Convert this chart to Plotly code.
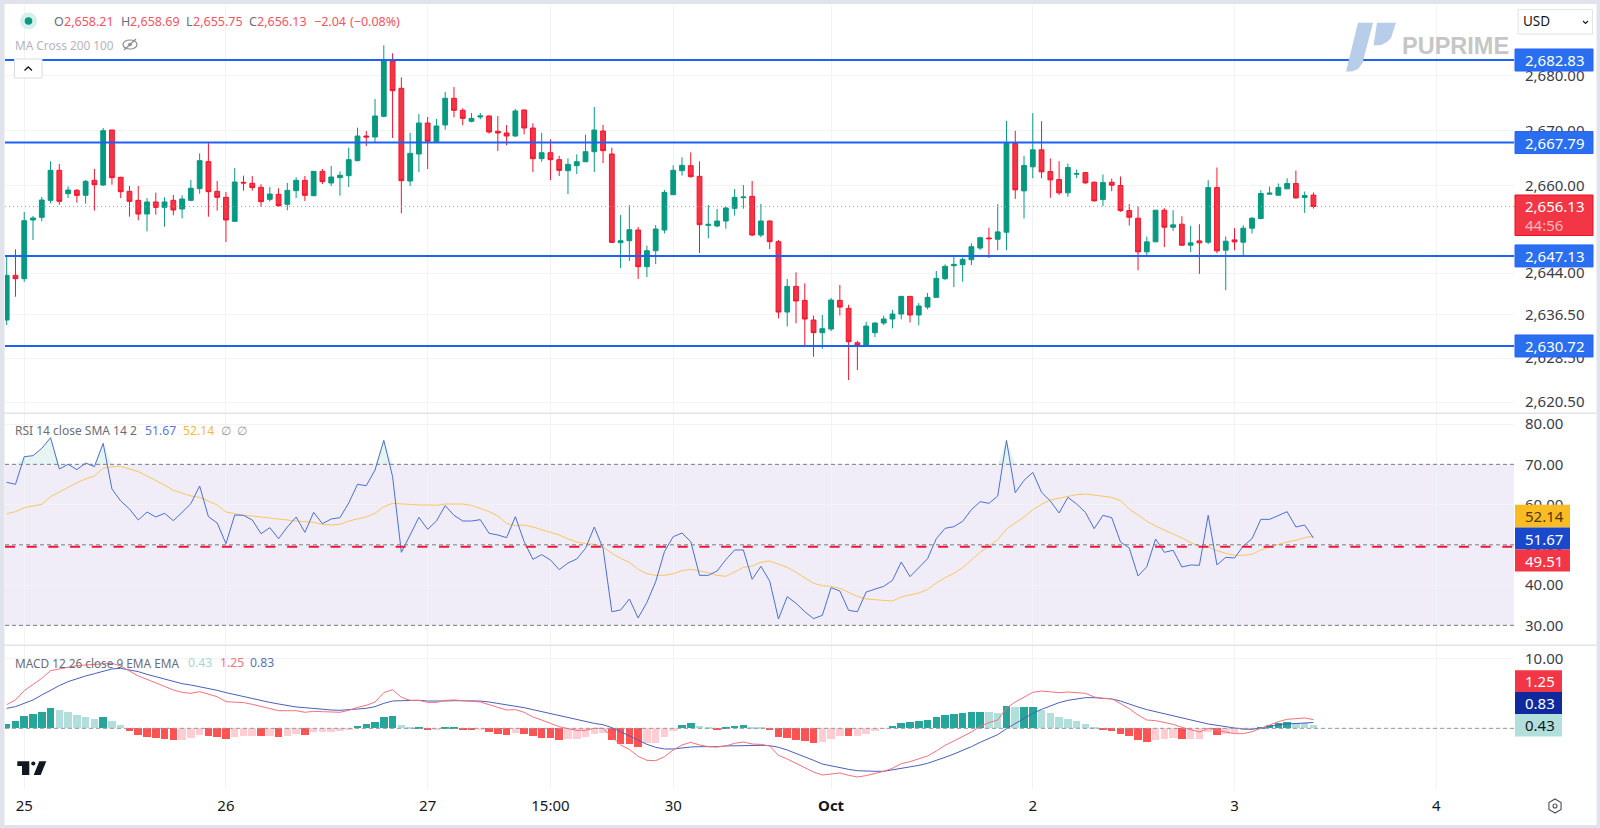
import numpy as np
import plotly.graph_objects as go

# ---------- data ----------
opens = [2635.45,2643.59,2642.98,2653.67,2654.16,2657.26,2662.73,2658.47,2659.08,2658.17,
2660.90,2660.05,2670.08,2661.45,2658.90,2657.26,2654.77,2656.96,2655.98,2657.26,
2655.68,2657.26,2659.39,2664.31,2658.90,2657.81,2653.43,2660.54,2660.36,2659.63,
2657.44,2658.35,2656.53,2659.02,2660.90,2658.11,2662.54,2660.42,2661.39,2661.75,
2664.49,2668.98,2668.80,2672.57,2682.65,2677.67,2660.78,2665.70,2671.35,2667.95,
2670.99,2675.85,2673.66,2671.66,2672.45,2672.63,2669.83,2669.53,2668.98,2673.72,
2670.44,2664.85,2665.94,2664.67,2662.66,2663.57,2664.30,2666.12,2669.89,2665.70,
2649.54,2649.90,2651.85,2645.17,2648.08,2651.85,2658.29,2662.66,2663.57,2661.63,
2652.70,2652.58,2653.49,2655.80,2657.74,2657.98,2650.94,2653.49,2649.72,2636.90,
2641.58,2639.03,2635.45,2633.14,2633.81,2639.03,2637.57,2631.31,2630.77,2633.14,
2634.90,2635.63,2636.54,2639.76,2636.36,2637.81,2639.58,2642.98,2645.35,2645.53,
2646.44,2648.57,2650.39,2650.17,2651.45,2667.61,2658.98,2663.36,2666.46,2662.51,
2661.05,2658.62,2662.02,2662.32,2660.56,2657.40,2660.56,2659.96,2655.40,2654.00,
2647.87,2649.69,2655.46,2652.36,2652.91,2649.08,2649.87,2649.63,2659.59,2648.17,
2650.05,2649.63,2652.18,2653.94,2658.38,2658.19,2659.35,2660.32,2657.77,2658.21]
highs = [2647.24,2648.33,2655.13,2654.40,2657.87,2664.37,2663.88,2659.81,2659.32,2660.96,
2662.97,2670.44,2670.08,2661.57,2659.87,2659.87,2657.68,2658.66,2657.81,2658.23,
2658.17,2660.96,2665.82,2667.77,2660.78,2658.78,2663.15,2661.75,2661.69,2660.18,
2659.69,2659.45,2660.42,2661.45,2661.69,2662.54,2662.97,2663.52,2662.54,2666.86,
2670.50,2669.90,2675.73,2685.51,2684.05,2679.68,2669.59,2672.99,2672.45,2672.08,
2677.00,2677.91,2674.03,2673.18,2673.18,2672.75,2672.63,2670.98,2673.90,2673.84,
2671.29,2669.59,2668.37,2665.39,2664.91,2665.64,2669.22,2674.26,2670.98,2666.85,
2654.58,2656.40,2652.39,2648.99,2652.76,2659.14,2663.63,2665.09,2666.00,2664.36,
2656.40,2655.68,2656.10,2659.32,2660.05,2660.78,2656.59,2653.61,2650.03,2642.92,
2644.13,2642.13,2636.24,2636.36,2639.46,2641.83,2638.24,2631.68,2635.14,2635.02,
2636.24,2637.27,2639.82,2639.82,2638.54,2640.37,2644.38,2645.59,2647.11,2646.87,
2649.42,2650.63,2652.27,2656.55,2671.74,2669.92,2665.36,2673.14,2671.68,2664.88,
2664.39,2663.96,2662.87,2662.39,2660.68,2661.96,2661.23,2661.60,2656.55,2656.13,
2650.66,2655.46,2655.82,2655.46,2654.37,2652.60,2652.91,2660.93,2663.24,2650.66,
2652.18,2652.73,2654.24,2659.10,2659.77,2660.32,2661.29,2662.69,2658.86,2658.69]
lows = [2634.54,2639.70,2642.44,2650.03,2653.43,2656.71,2656.47,2657.68,2656.83,2656.65,
2655.38,2659.87,2660.11,2657.68,2654.28,2653.61,2651.61,2654.65,2652.46,2654.53,
2653.98,2657.08,2658.47,2654.28,2655.38,2649.67,2653.31,2659.02,2659.02,2656.10,
2657.02,2656.10,2655.44,2657.68,2657.14,2657.99,2660.24,2659.87,2658.11,2659.69,
2664.37,2667.16,2667.77,2672.39,2668.62,2654.89,2659.87,2662.42,2662.97,2667.77,
2670.14,2672.39,2670.93,2671.47,2672.02,2669.41,2666.25,2667.28,2668.86,2669.28,
2662.42,2664.30,2660.96,2661.69,2658.41,2662.05,2664.18,2662.42,2664.06,2649.54,
2644.92,2646.20,2642.92,2643.28,2645.65,2651.24,2658.29,2661.75,2661.39,2647.66,
2650.33,2652.34,2652.09,2654.46,2655.74,2650.75,2650.51,2648.39,2635.75,2634.29,
2634.84,2630.77,2628.76,2630.22,2633.44,2636.30,2624.51,2626.33,2630.71,2632.35,
2634.53,2633.93,2635.57,2635.02,2634.47,2637.39,2639.58,2642.73,2641.46,2642.43,
2645.47,2648.20,2646.74,2648.17,2648.17,2657.53,2653.94,2661.29,2661.29,2657.71,
2658.25,2657.89,2661.29,2660.26,2657.04,2656.19,2658.92,2655.16,2652.67,2644.52,
2647.26,2649.69,2648.72,2651.69,2648.96,2647.81,2643.86,2649.26,2647.62,2640.88,
2648.17,2647.26,2651.21,2653.82,2658.38,2658.13,2659.35,2657.53,2654.97,2655.75]
closes = [2643.59,2642.98,2653.55,2654.04,2657.32,2662.73,2657.08,2659.14,2658.17,2660.72,
2660.11,2669.96,2661.39,2658.84,2657.08,2654.77,2656.96,2655.98,2656.96,2655.50,
2657.50,2659.45,2664.49,2658.84,2657.81,2653.67,2660.60,2660.42,2659.57,2657.02,
2658.41,2656.29,2659.08,2660.90,2658.17,2662.54,2660.66,2661.51,2661.82,2664.67,
2668.98,2668.80,2672.63,2682.83,2677.25,2660.84,2665.82,2671.35,2668.01,2670.81,
2675.85,2673.66,2672.20,2672.20,2672.63,2669.71,2669.53,2668.98,2673.54,2670.44,
2664.85,2665.94,2664.67,2662.72,2663.81,2664.30,2666.12,2670.07,2666.31,2649.60,
2649.90,2651.91,2645.17,2648.08,2652.03,2658.71,2662.72,2663.63,2661.57,2652.82,
2652.88,2653.49,2655.86,2657.80,2657.86,2650.94,2653.49,2649.72,2636.90,2641.58,
2638.91,2635.63,2633.14,2633.87,2639.09,2637.81,2631.50,2630.77,2634.35,2634.90,
2635.63,2636.54,2639.76,2636.36,2638.00,2639.58,2643.04,2645.23,2645.59,2646.50,
2648.81,2650.45,2650.27,2651.51,2667.61,2659.17,2663.60,2666.46,2662.45,2660.99,
2658.62,2663.24,2662.14,2660.44,2657.16,2660.50,2660.02,2655.40,2654.18,2647.87,
2649.69,2655.46,2652.36,2652.79,2649.08,2649.51,2649.51,2659.59,2648.05,2649.81,
2649.69,2652.18,2654.00,2658.50,2658.56,2659.59,2660.32,2657.71,2658.13,2656.13]

rsi = [65.53,65.03,71.90,72.15,73.97,76.62,68.84,70.0,68.67,70.33,
69.42,75.22,63.87,60.89,58.90,56.17,58.16,56.91,57.83,56.0,
58.07,60.23,64.62,57.0,55.42,50.29,57.41,57.33,56.17,52.77,
54.26,51.53,54.43,56.91,53.10,58.07,55.26,56.42,56.75,60.39,
65.03,64.70,68.59,75.96,66.94,48.14,52.44,56.83,53.85,55.92,
59.73,57.33,55.92,55.92,56.25,52.86,52.44,51.78,57.0,50.79,
46.40,47.56,46.23,43.83,45.49,46.48,49.13,54.43,49.13,33.39,
33.81,36.54,31.82,35.71,40.85,48.30,52.03,52.94,50.79,42.42,
42.42,43.50,46.31,48.72,48.72,41.43,44.66,41.0,31.57,37.12,
35.47,33.39,31.66,32.48,39.36,38.53,33.72,33.39,38.28,38.94,
39.69,41.18,45.73,42.09,44.33,46.56,51.53,54.10,54.51,55.84,
58.74,60.72,60.31,62.13,75.96,62.96,66.02,68.0,63.04,60.89,
57.91,61.80,60.14,58.07,54.01,57.33,56.75,50.70,49.21,42.26,
44.57,51.45,48.14,48.64,44.49,44.99,44.91,57.33,44.99,46.89,
46.73,49.71,51.53,56.33,56.33,57.33,58.24,54.43,54.93,51.67]
rsi_sma = [57.74,58.24,59.23,59.73,60.06,61.97,63.13,64.29,65.44,66.36,
67.10,69.01,69.42,69.50,68.92,68.18,67.10,66.02,64.86,63.54,
62.79,62.13,61.80,60.89,59.90,58.16,57.66,57.33,57.16,56.91,
56.58,56.25,56.09,55.92,55.76,55.59,55.09,54.93,55.09,55.92,
56.42,56.91,57.83,59.48,60.31,60.14,59.90,59.90,59.90,59.81,
60.14,60.14,60.14,59.81,59.07,58.24,57.16,55.34,54.76,54.93,
54.43,53.77,53.27,52.44,51.45,50.70,50.29,50.12,49.46,47.89,
46.65,45.65,43.91,42.83,42.42,42.42,42.83,43.58,43.91,43.58,
43.08,42.42,42.17,43.25,44.41,44.74,45.65,45.98,45.24,44.41,
43.17,41.84,40.43,39.85,39.69,39.19,38.28,37.20,36.54,36.37,
36.04,36.04,37.04,37.45,38.03,38.94,40.52,41.84,42.92,44.33,
46.23,48.14,49.71,51.28,53.93,55.51,56.91,58.74,60.06,61.14,
61.63,62.13,62.46,62.63,62.30,62.05,61.80,60.97,58.90,57.41,
55.84,54.68,53.68,52.77,51.70,50.54,49.63,49.46,48.55,47.89,
47.39,47.39,47.64,48.72,49.46,50.12,50.70,51.12,51.78,52.14]

macd_hist = [0.57,1.0,1.71,2.1,2.38,2.86,2.57,2.33,1.9,1.57,
1.29,1.57,1.05,0.48,-0.33,-0.9,-1.24,-1.33,-1.52,-1.67,
-1.62,-1.38,-0.95,-1.1,-1.19,-1.52,-1.24,-1.1,-1.1,-1.15,
-1.1,-1.24,-1.1,-0.81,-0.9,-0.52,-0.52,-0.52,-0.38,-0.1,
0.33,0.62,0.9,1.57,1.71,0.48,0.05,0.05,-0.14,-0.14,
0.19,0.19,-0.1,-0.19,-0.19,-0.48,-0.76,-0.95,-0.67,
-0.76,-1.1,-1.33,-1.36,-1.62,-1.57,-1.52,-1.19,-0.81,-0.62,
-1.67,-2.19,-2.22,-2.62,-2.14,-2.05,-1.24,-0.33,0.48,0.71,
0.33,0.05,-0.1,0.19,0.33,0.48,0.19,0.17,-0.24,-1.24,
-1.33,-1.67,-1.76,-2.05,-1.95,-1.52,-1.1,-1.15,-1.1,-0.81,
-0.38,-0.05,0.33,0.71,0.9,1.05,1.19,1.57,1.86,2.0,
2.14,2.29,2.29,2.27,2.14,3.14,3.0,3.0,3.0,2.62,
2.19,1.62,1.33,1.05,0.62,0.19,-0.14,-0.33,-0.76,-1.05,
-1.62,-1.9,-1.67,-1.52,-1.45,-1.55,-1.52,-1.5,-0.57,-0.95,
-0.86,-0.62,-0.24,-0.05,0.14,0.48,0.71,0.9,0.75,0.72,0.43]
macd_line = [3.38,4.05,5.38,6.29,7.14,8.24,8.48,8.81,8.95,9.05,
9.10,9.19,9.29,8.90,8.24,7.48,7.0,6.52,6.05,5.48,
5.14,5.0,5.24,4.90,4.52,3.81,3.76,3.67,3.43,3.10,
2.81,2.52,2.52,2.52,2.29,2.43,2.38,2.33,2.29,2.57,
3.0,3.29,3.76,5.10,5.52,4.43,4.0,4.0,3.71,3.71,
4.0,4.05,4.0,3.86,3.76,3.33,3.0,2.62,2.67,
2.29,1.62,1.19,0.71,0.24,-0.05,-0.29,-0.29,0,0,
-1.19,-2.38,-3.0,-4.0,-4.57,-4.62,-4.05,-3.10,-2.38,-2.0,
-2.38,-2.62,-2.67,-2.52,-2.14,-1.95,-2.24,-2.29,-2.52,-3.86,
-4.38,-5.0,-5.62,-6.24,-6.67,-6.52,-6.38,-6.71,-6.95,-6.76,
-6.48,-6.14,-5.71,-5.05,-4.76,-4.38,-3.95,-3.24,-2.43,-1.81,
-1.19,-0.52,0.29,0.81,1.19,2.90,3.76,4.43,5.14,5.33,
5.24,5.10,5.19,5.14,5.0,4.48,4.29,4.24,3.57,2.81,
1.90,1.19,1.10,0.81,0.57,0.14,-0.24,-0.52,0,-0.29,
-0.52,-0.76,-0.76,-0.48,0,0.52,0.95,1.29,1.38,1.48,1.25]
macd_signal = [2.86,3.10,3.57,4.05,4.76,5.48,6.10,6.67,7.10,7.48,
7.81,8.19,8.48,8.57,8.38,8.10,7.71,7.38,7.0,6.67,
6.38,6.19,5.95,5.71,5.43,5.10,4.81,4.52,4.29,4.0,
3.71,3.48,3.24,3.05,2.95,2.81,2.71,2.62,2.57,2.62,
2.76,2.86,3.10,3.57,3.90,3.95,4.0,4.0,3.90,3.86,
3.90,3.95,3.95,3.95,3.90,3.76,3.57,3.38,3.19,
2.95,2.67,2.38,2.14,1.81,1.48,1.19,0.90,0.71,0.52,
0.10,-0.48,-1.10,-1.67,-2.29,-2.71,-2.95,-2.95,-2.76,-2.67,
-2.62,-2.67,-2.62,-2.52,-2.48,-2.43,-2.38,-2.43,-2.48,-2.71,
-3.10,-3.57,-4.05,-4.57,-5.10,-5.38,-5.62,-5.86,-6.05,-6.14,
-6.14,-6.14,-5.95,-5.76,-5.52,-5.29,-5.0,-4.62,-4.14,-3.67,
-3.19,-2.62,-2.0,-1.48,-0.90,-0.05,0.67,1.38,2.14,2.71,
3.24,3.67,4.0,4.24,4.38,4.38,4.29,4.19,3.90,3.43,
3.05,2.67,2.38,2.10,1.76,1.48,1.14,0.86,0.62,0.43,
0.19,0.05,-0.10,-0.14,0.05,0.33,0.52,0.62,0.71,0.81,0.83]

sr_levels = [2682.83, 2667.79, 2647.13, 2630.72]
last_price = 2656.13
rsi_ma_base = 49.51
price_ticks = [2680, 2670, 2660, 2644, 2636.5, 2628.5, 2620.5]
rsi_ticks = [80, 70, 60, 50, 40, 30]
macd_ticks = [10, 0]
date_ticks = [2, 25, 48, 62, 76, 94, 117, 140, 163]
date_labels = ["25", "26", "27", "15:00", "30", "<b>Oct</b>", "2", "3", "4"]

for a in (opens, highs, lows, closes, rsi, rsi_sma, macd_hist, macd_line, macd_signal):
    assert len(a) == 150, len(a)

# ---------- geometry ----------
W, H = 1600, 828
PL, PR, PT, PB = 5, 1514, 5, 790
def fx(x): return (x - PL) / (PR - PL)
def fy(y): return (PB - y) / (PB - PT)
def val_range(top_val, top_y, per_px, ymin, ymax):
    return [top_val - (ymax - top_y) / per_px, top_val + (top_y - ymin) / per_px]

idx = list(range(150))
x_step = 8.77
x_first = 6.7
xr = [(PL - x_first) / x_step, (PR - x_first) / x_step]
FONT = "Noto Sans"
GRID = "#f2f3f6"
BORDER = "#e0e3eb"

fig = go.Figure()
fig.add_trace(go.Candlestick(
    x=idx, open=opens, high=highs, low=lows, close=closes, xaxis="x", yaxis="y",
    increasing=dict(line=dict(color="#089981", width=1), fillcolor="#089981"),
    decreasing=dict(line=dict(color="#f7132e", width=1), fillcolor="#f23645"),
    whiskerwidth=0, hoverinfo="skip", showlegend=False))

# RSI
fig.add_trace(go.Scatter(x=idx, y=[70] * 150, mode="lines", line=dict(width=0), xaxis="x2", yaxis="y2",
                         hoverinfo="skip", showlegend=False))
fig.add_trace(go.Scatter(x=idx, y=np.maximum(rsi, 70).tolist(), mode="lines", line=dict(width=0),
                         fill="tonexty", fillcolor="rgba(8,153,129,0.10)", xaxis="x2", yaxis="y2",
                         hoverinfo="skip", showlegend=False))
fig.add_trace(go.Scatter(x=idx, y=rsi_sma, mode="lines", line=dict(color="#fcc55e", width=1),
                         xaxis="x2", yaxis="y2", hoverinfo="skip", showlegend=False))
fig.add_trace(go.Scatter(x=idx, y=rsi, mode="lines", line=dict(color="#4a6fda", width=1),
                         xaxis="x2", yaxis="y2", hoverinfo="skip", showlegend=False))

# MACD
hist_cols = []
for i, v in enumerate(macd_hist):
    p = macd_hist[i - 1] if i else 0
    if v >= 0:
        hist_cols.append("#26a69a" if v >= p else "#b2dfdb")
    else:
        hist_cols.append("#ff5252" if v < p else "#ffcdd2")
fig.add_trace(go.Bar(x=idx, y=macd_hist, marker=dict(color=hist_cols, line=dict(width=0)), width=0.86,
                     xaxis="x3", yaxis="y3", hoverinfo="skip", showlegend=False))
fig.add_trace(go.Scatter(x=idx, y=macd_signal, mode="lines", line=dict(color="#4a5fba", width=1),
                         xaxis="x3", yaxis="y3", hoverinfo="skip", showlegend=False))
fig.add_trace(go.Scatter(x=idx, y=macd_line, mode="lines", line=dict(color="#f7707c", width=1),
                         xaxis="x3", yaxis="y3", hoverinfo="skip", showlegend=False))

shapes, annots = [], []
def rect_px(x0, y0, x1, y1, fill, line=None, layer="above", lw=1):
    shapes.append(dict(type="rect", xref="paper", yref="paper", x0=fx(x0), x1=fx(x1), y0=fy(y0), y1=fy(y1),
                       fillcolor=fill, line=dict(color=line or fill, width=lw if line else 0), layer=layer))
def line_px(x0, y0, x1, y1, col, w=1):
    shapes.append(dict(type="line", xref="paper", yref="paper", x0=fx(x0), x1=fx(x1), y0=fy(y0), y1=fy(y1),
                       line=dict(color=col, width=w), layer="above"))
def path_px(pts, fill, line=None, lw=0, close=True):
    d = "M " + " L ".join(f"{fx(a):.5f},{fy(b):.5f}" for a, b in pts) + (" Z" if close else "")
    shapes.append(dict(type="path", xref="paper", yref="paper", path=d, fillcolor=fill,
                       line=dict(color=line or fill, width=lw), layer="above"))
def circle_px(cx, cy, rx, ry, fill, line=None, lw=0):
    shapes.append(dict(type="circle", xref="paper", yref="paper", x0=fx(cx - rx), x1=fx(cx + rx),
                       y0=fy(cy - ry), y1=fy(cy + ry), fillcolor=fill, line=dict(color=line or fill, width=lw),
                       layer="above"))
def text_px(x, y, t, size=13, col="#131722", anchor="left", family=FONT):
    annots.append(dict(xref="paper", yref="paper", x=fx(x), y=fy(y), text=t, showarrow=False,
                       xanchor=anchor, yanchor="middle", xshift=0, align=anchor,
                       font=dict(size=size, color=col, family=family), borderpad=0))

# RSI band + reference lines
shapes.append(dict(type="rect", xref="paper", yref="y2", x0=0, x1=1, y0=30, y1=70,
                   fillcolor="#f0edf8", line=dict(width=0), layer="below"))
shapes.append(dict(type="line", xref="paper", yref="y2", x0=0, x1=1, y0=rsi_ma_base, y1=rsi_ma_base,
                   line=dict(color="#f3143a", width=2, dash="10px,11.7px"), layer="above"))
for lv in (70, 50, 30):
    shapes.append(dict(type="line", xref="paper", yref="y2", x0=0, x1=1, y0=lv, y1=lv,
                       line=dict(color="#787b86", width=1, dash="4px,3px"), layer="above"))
shapes.append(dict(type="line", xref="paper", yref="y3", x0=0, x1=1, y0=0, y1=0,
                   line=dict(color="#9598a1", width=1, dash="4px,3px"), layer="above"))
# levels
shapes.append(dict(type="line", xref="paper", yref="y", x0=0, x1=1, y0=last_price, y1=last_price,
                   line=dict(color="#f77c80", width=1, dash="1px,3px"), layer="above"))
for lv in sr_levels:
    shapes.append(dict(type="line", xref="paper", yref="y", x0=0, x1=1, y0=lv, y1=lv,
                       line=dict(color="#1e62f5", width=2), layer="above"))

# frame
rect_px(0, 0, W, 4, BORDER)
rect_px(0, 0, 4.5, H, BORDER)
rect_px(1596.5, 0, W, H, BORDER)
rect_px(0, 825, W, H, BORDER)
rect_px(4.5, 412.5, 1596.5, 414, BORDER)
rect_px(4.5, 644.5, 1596.5, 646, BORDER)

# price axis boxes
price_range = val_range(2682.83, 60, 5.488, 5, 412)
def price_to_px(p): return 60 + (2682.83 - p) * 5.488
for lv in sr_levels:
    yc = price_to_px(lv)
    rect_px(1515, yc - 11, 1593, yc + 11, "#2a6ff0", "#2962ff")
    text_px(1555, yc, f"{lv:,.2f}", 15, "#ffffff", "center")
rect_px(1515, 195, 1593, 235.5, "#f23645", "#ee0f20")
text_px(1555, 206, f"{last_price:,.2f}", 15, "#ffffff", "center")
text_px(1524.5, 224.5, "44:56", 15, "#fbb6bc", "left")

# RSI boxes
for (y0, y1, fc, tc, t) in [(504.7, 527.5, "#fbbc23", "#4a3b10", "52.14"),
                            (527.5, 549.5, "#1848cc", "#ffffff", "51.67"),
                            (549.5, 571.5, "#f23645", "#ffffff", "49.51")]:
    rect_px(1515, y0, 1570, y1, fc)
    text_px(1544, (y0 + y1) / 2, t, 15, tc, "center")
# MACD boxes
for (y0, y1, fc, tc, t) in [(670.3, 692, "#f23645", "#ffffff", "1.25"),
                            (692, 714, "#10299e", "#ffffff", "0.83"),
                            (714, 736.5, "#b2dfdb", "#131722", "0.43")]:
    rect_px(1515, y0, 1562, y1, fc)
    text_px(1539.5, (y0 + y1) / 2, t, 15, tc, "center")

# legends
R_ = "#f7525f"
G_ = "#6a6d78"
circle_px(28.5, 21, 8.5, 8.5, "#d7efea")
circle_px(28.5, 21, 3.8, 3.8, "#089981")
for (lx, t, col) in [(53, "O", G_), (63.3, "2,658.21", R_), (119.5, "H", G_), (129, "2,658.69", R_),
                     (184.5, "L", G_), (192, "2,655.75", R_), (248, "C", G_), (256, "2,656.13", R_),
                     (312.5, "−2.04", R_), (348.5, "(−0.08%)", R_)]:
    text_px(lx, 22, t, 12.5, col)
text_px(14, 45, "MA Cross 200 100", 11.8, "#b2b5be")
circle_px(130, 44.5, 7, 4.5, "rgba(0,0,0,0)", "#8a8d96", 1.2)
circle_px(130, 44.5, 1.8, 1.8, "#8a8d96")
line_px(124, 50, 136, 39, "#8a8d96", 1.2)
text_px(14, 430, "RSI 14 close SMA 14 2", 12, G_)
for (lx, t, col) in [(144, "51.67", "#5b78d6"), (182, "52.14", "#f9b93a"), (220, "∅", "#9598a1"), (236, "∅", "#9598a1")]:
    text_px(lx, 430, t, 12.2, col)
text_px(14, 662.5, "MACD 12 26 close 9 EMA EMA", 11.8, G_)
for (lx, t, col) in [(187, "0.43", "#a4d9d2"), (219, "1.25", "#f7707c"), (249, "0.83", "#5d72b8")]:
    text_px(lx, 662.5, t, 12.2, col)

# collapse button
rect_px(14.5, 59, 42, 78, "#ffffff", "#d9dce4")
path_px([(24.5, 70.5), (28.3, 67), (32, 70.5)], "rgba(0,0,0,0)", "#131722", 1.3, close=False)

# USD selector
rect_px(1518, 9.5, 1592.5, 34, "#ffffff", BORDER)
text_px(1522, 21.5, "USD", 13.5, "#131722")
path_px([(1583, 21), (1585.5, 23.5), (1588, 21)], "rgba(0,0,0,0)", "#131722", 1.1, close=False)

# brand mark
path_px([(1358, 22.7), (1373, 22.7), (1362.5, 63), (1358, 69), (1352, 71.5), (1346, 71.5)], "#b7cdea")
path_px([(1377, 22.7), (1396, 22.7), (1391, 38), (1387, 42), (1381, 45), (1373.5, 45.5)], "#b7cdea")
text_px(1401, 46.5, "<b>PUPRIME</b>", 23.5, "#c6c6c6", "left", "Liberation Sans")

# TradingView mark
path_px([(17.3, 761.3), (29.3, 761.3), (29.3, 775), (22, 775), (22, 766), (17.3, 766)], "#131722")
circle_px(33.3, 763.5, 2.1, 2.1, "#131722")
path_px([(39.3, 761.3), (46.3, 761.3), (40.7, 775), (33.7, 775)], "#131722")

# settings hexagon
hex_r = 7
path_px([(1555 + hex_r * np.cos(np.pi / 2 + k * np.pi / 3), 806 + hex_r * np.sin(np.pi / 2 + k * np.pi / 3)) for k in range(6)],
        "rgba(0,0,0,0)", "#4a4d58", 1.1)
circle_px(1555, 806, 2, 2, "rgba(0,0,0,0)", "#4a4d58", 1.1)

tick_font = dict(family=FONT, size=15, color="#3a3d48")
common_x = dict(range=xr, tickvals=date_ticks, ticktext=date_labels, showgrid=True, gridcolor=GRID, gridwidth=1,
                zeroline=False, showline=False, ticks="", fixedrange=True)
common_y = dict(side="right", showgrid=True, gridcolor=GRID, gridwidth=1, zeroline=False, showline=False,
                ticks="", fixedrange=True, tickfont=tick_font, ticklabelstandoff=10)

fig.update_layout(
    width=W, height=H, autosize=False,
    margin=dict(l=PL, r=W - PR, t=PT, b=H - PB, pad=0),
    paper_bgcolor="#ffffff", plot_bgcolor="rgba(0,0,0,0)",
    font=dict(family=FONT), showlegend=False, boxgap=0.22, bargap=0, barmode="overlay",
    xaxis=dict(**common_x, anchor="y", showticklabels=False, rangeslider=dict(visible=False)),
    xaxis2=dict(**common_x, anchor="y2", showticklabels=False),
    xaxis3=dict(**common_x, anchor="y3", showticklabels=True, tickfont=dict(family=FONT, size=15, color="#131722"),
                ticklabelstandoff=6),
    yaxis=dict(**common_y, anchor="x", domain=[fy(412), 1], range=price_range, tickvals=price_ticks, tickformat=",.2f"),
    yaxis2=dict(**common_y, anchor="x2", domain=[fy(644), fy(414)], range=val_range(70, 464.33, 4.025, 414, 644),
                tickvals=rsi_ticks, tickformat=".2f"),
    yaxis3=dict(**common_y, anchor="x3", domain=[fy(789), fy(646)], range=val_range(0, 728.33, 7, 646, 789),
                tickvals=macd_ticks, tickformat=".2f"),
    shapes=shapes, annotations=annots,
)
fig.write_html("out.html", config=dict(displayModeBar=False),
               post_script="document.body.style.margin='0';document.documentElement.style.overflow='hidden';")
